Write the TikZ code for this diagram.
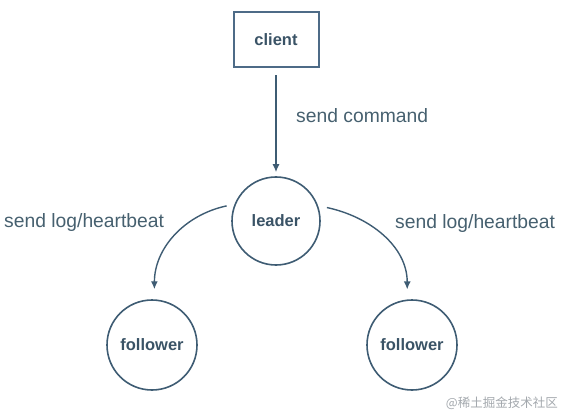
\documentclass[tikz,border=0pt]{standalone}
\usepackage{fontspec}
\setmainfont{Liberation Sans}
\newfontfamily\cjkfont{Noto Sans CJK SC}
\usetikzlibrary{arrows.meta}
\definecolor{linec}{HTML}{3E5C73}
\definecolor{boxc}{HTML}{4D6B87}
\definecolor{txtc}{HTML}{3A5366}
\definecolor{lblc}{HTML}{46606F}
\definecolor{wmc}{HTML}{A3A8AD}
\tikzset{
  boxnode/.style={draw=boxc, line width=2pt, minimum width=85pt, minimum height=55pt, inner sep=0pt,
    font=\fontsize{16.5}{19}\selectfont\bfseries, text=txtc},
  circnode/.style={circle, draw=linec, line width=1.6pt, minimum size=88pt, inner sep=0pt,
    font=\fontsize{16.5}{19}\selectfont\bfseries, text=txtc},
  lbl/.style={font=\fontsize{19.3}{22}\selectfont, text=lblc, inner sep=0pt},
  arr/.style={draw=linec, line width=1.4pt, -{Latex[length=8pt,width=7pt]}}
}
\begin{document}
\begin{tikzpicture}[x=1pt,y=1pt]
\useasboundingbox (0,0) rectangle (564,-414);
\node[boxnode] (client) at (276,-40) {client};
\node[circnode] (leader) at (276,-221) {leader};
\node[circnode, minimum size=90pt] (fl) at (152,-345) {follower};
\node[circnode, minimum size=90pt] (fr) at (412,-345) {follower};
\draw[arr, shorten <=7pt, shorten >=4pt] (client) -- (leader);
\draw[arr, shorten <=8pt, shorten >=10pt] (leader.158) to[out=192, in=90, looseness=1.05] (fl.87);
\draw[arr, shorten <=9pt, shorten >=10pt] (leader.20) to[out=-12, in=90, looseness=1.05] (fr.96);
\node[lbl, anchor=base west] (lc) at (296,-123) {send command};
\node[lbl, anchor=base west] (ll) at (4,-227) {send log/heartbeat};
\node[lbl, anchor=base west] (lr) at (395,-228) {send log/heartbeat};
\node[anchor=east, inner sep=0pt, text=wmc, font=\cjkfont\fontsize{12.5}{14}\selectfont] (wm) at (558,-403) {@稀土掘金技术社区};
\end{tikzpicture}
\end{document}
